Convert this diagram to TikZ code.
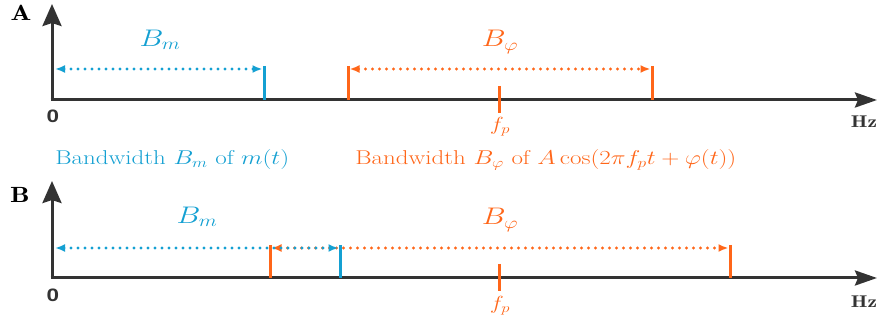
\RequirePackage{fix-cm}
\documentclass[tikz,border=0pt]{standalone}
\usepackage{fontspec}
\newfontfamily\zerofam{Liberation Sans}
\usetikzlibrary{arrows.meta}
\definecolor{cblue}{HTML}{14A0D2}
\definecolor{corange}{HTML}{FF6619}
\definecolor{caxis}{HTML}{333333}
\begin{document}
\begin{tikzpicture}[x=1pt,y=-1pt,
  lab/.style={xscale=1.25, inner sep=0pt},
  axis/.style={draw=caxis, line width=3pt},
  vaxis/.style={axis, -{Stealth[length=22pt,width=19pt,inset=3pt]}},
  haxis/.style={axis, -{Stealth[length=22pt,width=15pt,inset=3pt]}},
  tick/.style={line width=3pt},
  dotarrow/.style={line width=3.4pt, line cap=round, dash pattern=on 0pt off 7pt,
     {Latex[length=10pt,width=8pt]}-{Latex[length=10pt,width=8pt]}},
  big/.style={lab, font=\fontsize{24}{28}\selectfont},
  mid/.style={lab, font=\fontsize{19}{23}\selectfont},
  caplab/.style={lab, font=\fontsize{20}{24}\selectfont},
  panellab/.style={lab, font=\fontsize{22}{26}\selectfont},
  zerolab/.style={lab, text=caxis, font=\fontsize{18}{21}\selectfont\zerofam\bfseries},
  hzlab/.style={lab, text=caxis, font=\fontsize{17}{20}\selectfont}]
\useasboundingbox (0,0) rectangle (879,320);

% ---------- Panel A ----------
\coordinate (oA) at (52,100);
\coordinate (yA) at (52,4);
\coordinate (xA) at (877,100);
\draw[vaxis] (oA) -- (yA);
\draw[haxis] ([xshift=-1.5pt]oA) -- (xA);
\node[panellab] (labA) at (21,13) {$\mathbf{A}$};
\node[zerolab] (zA) at (53,116) {0};
\node[hzlab] (hzA) at (864,122) {$\mathbf{Hz}$};

% orange
\coordinate (oa1) at (348,66); \coordinate (oa1b) at (348,100);
\coordinate (oa2) at (652,66); \coordinate (oa2b) at (652,100);
\draw[tick, corange] (oa1) -- (oa1b);
\draw[tick, corange] (oa2) -- (oa2b);
\coordinate (fpa1) at (499,86); \coordinate (fpa2) at (499,113);
\draw[tick, corange] (fpa1) -- (fpa2);
\coordinate (oaL) at (349.5,69); \coordinate (oaR) at (650.5,69);
\draw[dotarrow, corange] (oaL) -- (oaR);
\node[big, text=corange] (BphiA) at (500,42) {$B_\varphi$};
\node[mid, text=corange] (fpA) at (500,127) {$f_p$};

% blue
\coordinate (ba1) at (264,66); \coordinate (ba1b) at (264,100);
\draw[tick, cblue] (ba1) -- (ba1b);
\coordinate (baL) at (55,69); \coordinate (baR) at (262.5,69);
\draw[dotarrow, cblue] (baL) -- (baR);
\node[big, text=cblue] (BmA) at (160,40) {$B_m$};

% captions
\node[caplab, text=cblue, anchor=west] (capm) at (55,160) {Bandwidth $B_m$ of $m(t)$};
\node[caplab, text=corange, anchor=west] (capphi) at (355,160) {Bandwidth $B_\varphi$ of $A\cos(2\pi f_pt+\varphi(t))$};

% ---------- Panel B ----------
\coordinate (oB) at (52,278);
\coordinate (yB) at (52,181);
\coordinate (xB) at (877,278);
\draw[vaxis] (oB) -- (yB);
\draw[haxis] ([xshift=-1.5pt]oB) -- (xB);
\node[panellab] (labB) at (20,195) {$\mathbf{B}$};
\node[zerolab] (zB) at (53,295) {0};
\node[hzlab] (hzB) at (864,302) {$\mathbf{Hz}$};

% orange
\coordinate (ob1) at (270,245); \coordinate (ob1b) at (270,278);
\coordinate (ob2) at (730,245); \coordinate (ob2b) at (730,278);
\draw[tick, corange] (ob1) -- (ob1b);
\draw[tick, corange] (ob2) -- (ob2b);
\coordinate (fpb1) at (499,264); \coordinate (fpb2) at (499,291);
\draw[tick, corange] (fpb1) -- (fpb2);
\coordinate (obL) at (271.5,248); \coordinate (obR) at (728.5,248);
\draw[dotarrow, corange] (obL) -- (obR);
\node[big, text=corange] (BphiB) at (500,220) {$B_\varphi$};
\node[mid, text=corange] (fpB) at (500,306) {$f_p$};

% blue
\coordinate (bb1) at (340,245); \coordinate (bb1b) at (340,278);
\draw[tick, cblue] (bb1) -- (bb1b);
\coordinate (bbL) at (55,248); \coordinate (bbR) at (338.5,248);
\draw[dotarrow, cblue] (bbL) -- (bbR);
\node[big, text=cblue] (BmB) at (197,217) {$B_m$};
\end{tikzpicture}
\end{document}
